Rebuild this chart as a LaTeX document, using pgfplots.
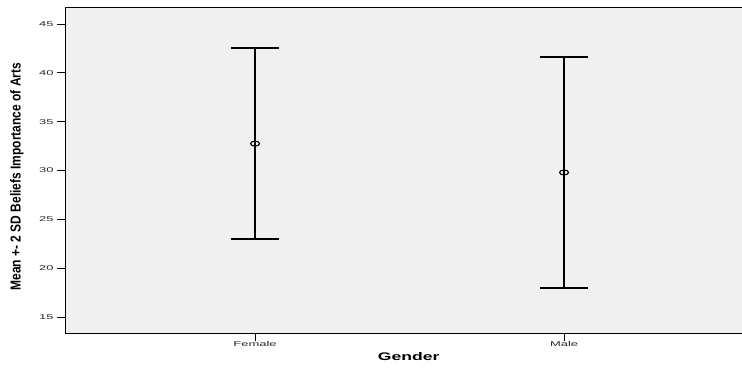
\documentclass[border=0pt]{standalone}
\usepackage{fontspec}
\setmainfont{Liberation Sans}
\usepackage{pgfplots}
\pgfplotsset{compat=1.18}
\definecolor{bgc}{HTML}{F0F0F0}
\begin{document}
\begin{tikzpicture}
\useasboundingbox (0,0) rectangle (742pt,370pt);
\begin{axis}[
  at={(65pt,37pt)}, anchor=south west,
  scale only axis, width=678pt, height=326pt,
  xmin=0.385, xmax=2.579, ymin=13.37, ymax=46.73,
  axis background/.style={fill=bgc},
  axis line style={black, line width=0.9pt},
  xtick={1,2}, xticklabels={\scalebox{1.85}[1]{Female},\scalebox{1.85}[1]{Male}},
  ytick={15,20,25,30,35,40,45},
  yticklabel={\scalebox{1.85}[1]{\pgfmathprintnumber{\tick}}},
  /pgf/number format/assume math mode=true,
  tick align=outside, major tick length=8pt,
  tick style={black, line width=0.6pt},
  xtick pos=bottom, ytick pos=left,
  tick label style={font=\fontsize{7}{8}\selectfont, text=black!85},
  xticklabel style={yshift=3pt},
  ylabel={\scalebox{1}[1.2]{Mean +- 2 SD Beliefs Importance of Arts}},
  ylabel style={at={(axis description cs:-0.0709,0.48)}, anchor=center, font=\bfseries\fontsize{12}{14}\selectfont},
  xlabel={\scalebox{1.6}[1]{Gender}},
  xlabel style={at={(axis description cs:0.507,0)}, yshift=-24pt, anchor=center, font=\bfseries\fontsize{11}{13}\selectfont},
  clip=false,
]
\addplot[black, only marks, mark=o, mark size=2.5pt,
  mark options={xscale=1.8, line width=1.1pt, fill=none},
  error bars/.cd, y dir=both, y explicit, error mark=|,
  error bar style={line width=2.4pt, black},
  error mark options={mark size=24pt, line width=1.8pt, black}]
  coordinates {
    (1,32.75) +- (0,9.75)
    (2,29.8) +- (0,11.8)
  };
\end{axis}
\end{tikzpicture}
\end{document}
